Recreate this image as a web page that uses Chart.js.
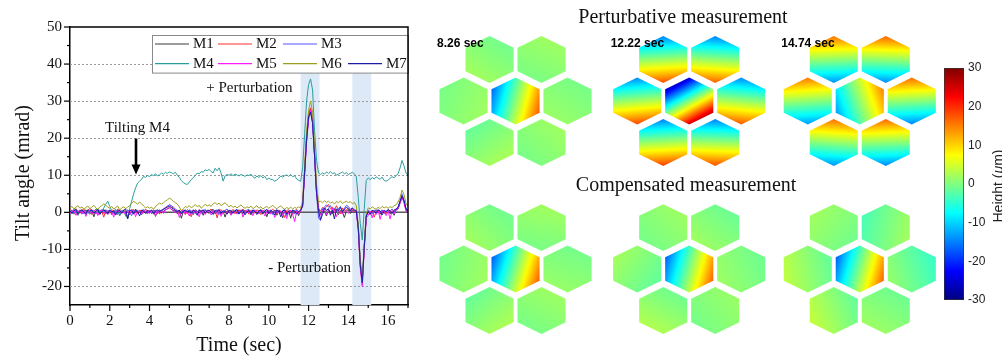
<!DOCTYPE html>
<html>
<head>
<meta charset="utf-8">
<script src="https://cdn.jsdelivr.net/npm/chart.js@4.4.0/dist/chart.umd.min.js"></script>
<style>
  html, body { margin: 0; padding: 0; background: #ffffff; }
  #fig { position: relative; width: 1002px; height: 358px; overflow: hidden; background: #ffffff; }
  .panel { position: absolute; }
</style>
</head>
<body>
<div id="fig">
  <div class="panel" style="left:0;top:0;width:420px;height:358px"><canvas id="tilt"></canvas></div>
  <div class="panel" style="left:420px;top:0;width:582px;height:358px"><canvas id="surface"></canvas></div>
  <div class="panel" style="left:936px;top:56px;width:66px;height:256px"><canvas id="colorbar"></canvas></div>
</div>
<script>
// ---------------------------------------------------------------------------
// Segment tilt angles (mrad), sampled every 0.1 s from 0 to 17 s
// ---------------------------------------------------------------------------
const SAMPLE_STEP = 0.1;

const M1 = [
  0.3,-0.4,0.6,0.1,-0.8,0.5,0.2,-0.3,0.7,0.0,
  -0.5,0.4,-1.2,0.3,0.6,-0.2,0.1,0.8,-0.4,0.2,
  0.5,-0.6,0.3,-0.1,0.7,-0.9,0.2,0.4,-0.3,-1.4,
  0.6,0.2,-0.5,0.9,-0.2,0.3,-0.7,0.5,0.1,-0.4,
  0.4,-0.3,0.6,-1.1,0.2,0.5,-0.2,0.3,0.7,0.9,
  1.2,0.8,0.5,0.3,-0.4,0.6,-1.6,0.2,0.4,-0.3,
  0.5,0.1,-0.6,0.7,0.3,-0.2,0.4,-0.8,0.6,0.2,
  -0.3,0.5,0.8,-0.4,0.2,0.6,-0.5,0.3,-1.3,0.4,
  0.2,-0.6,0.5,0.3,-0.2,0.7,0.1,-0.4,0.6,-0.1,
  0.4,-0.7,0.3,0.5,-0.3,0.2,0.8,-0.5,0.3,-1.2,
  0.5,0.2,-0.4,0.6,-0.8,0.3,0.1,-1.5,0.7,-0.3,
  0.4,-1.6,0.5,-0.2,0.3,-0.9,0.6,2.0,11.0,20.0,
  26.0,28.0,25.0,16.0,6.0,1.2,-0.5,0.8,0.3,-1.0,
  0.6,0.2,-0.4,0.9,0.3,-0.6,0.5,0.1,-1.4,0.4,
  0.7,-0.3,0.5,0.2,0.5,-4.0,-14.0,-18.5,-9.0,-1.0,
  0.3,-0.6,0.4,-0.2,0.7,0.1,-0.5,0.6,-0.3,0.2,
  0.5,-0.4,0.3,-0.8,0.6,0.9,2.6,4.2,2.8,0.6,
  0.3
];
const M2 = [
  0.8,0.2,-0.5,1.0,0.4,-0.3,0.6,0.9,-0.2,0.5,
  1.1,-0.6,0.3,0.7,-0.4,0.5,0.2,-1.3,0.6,0.3,
  -0.2,0.7,0.4,-0.5,0.9,0.2,-0.3,0.6,0.1,0.4,
  -0.7,0.5,0.8,0.2,-0.4,0.6,0.3,-0.2,0.9,0.1,
  0.5,-0.3,0.7,0.2,0.4,-0.5,0.6,0.9,1.3,1.7,
  1.9,1.5,1.1,0.6,0.2,-0.4,0.5,0.3,-0.6,0.7,
  0.2,-1.2,0.6,0.4,-0.3,0.8,0.2,0.5,-0.4,0.6,
  0.3,0.9,-0.2,0.5,-1.5,0.4,0.7,0.1,0.6,-0.3,
  0.5,0.2,0.8,-0.4,0.3,0.6,-0.2,0.9,0.1,0.4,
  -0.5,0.6,0.3,-0.2,0.7,0.4,-0.6,0.5,0.2,0.8,
  -0.3,0.4,0.9,0.1,-0.5,0.6,0.3,-0.2,-1.4,0.5,
  0.7,0.2,-0.6,0.4,0.8,-0.3,0.5,2.2,11.5,20.5,
  26.5,28.2,25.0,15.5,5.5,1.0,0.4,1.3,0.8,1.6,
  2.1,0.9,1.4,0.5,1.8,0.6,-0.4,1.2,0.3,0.7,
  1.1,0.4,0.8,0.3,0.6,-4.5,-14.5,-19.5,-9.5,-1.2,
  0.4,-0.5,0.6,-1.3,0.2,0.5,-0.3,0.7,0.1,-0.4,
  0.6,0.3,-0.2,0.5,0.8,1.1,2.8,4.6,3.0,0.8,
  0.4
];
const M3 = [
  0.2,0.6,-0.3,0.4,0.1,0.7,-0.5,0.3,0.5,-0.2,
  0.4,0.8,0.1,-0.4,0.6,0.2,0.5,-0.3,0.7,0.3,
  0.6,-0.2,0.4,0.8,-0.6,0.3,0.5,0.1,-0.4,0.7,
  0.2,-0.9,0.5,0.3,0.6,-0.2,0.4,0.8,0.1,0.5,
  -0.3,0.6,0.2,0.5,-0.4,0.7,0.3,0.9,1.2,1.6,
  2.1,1.8,1.4,0.9,0.5,0.2,-0.3,0.6,0.4,0.1,
  0.7,0.3,-0.5,0.5,0.2,0.6,-0.3,0.4,0.8,0.1,
  0.5,-0.2,0.6,0.3,0.7,-0.6,0.4,0.2,0.5,0.9,
  0.1,0.6,-0.3,0.5,0.4,-0.5,0.7,0.2,0.3,0.6,
  0.8,-0.2,0.4,0.6,0.1,-0.4,0.5,0.3,0.7,-0.1,
  0.4,0.6,-0.6,0.3,0.8,0.2,-0.3,0.5,0.6,-0.9,
  0.3,0.5,0.1,-0.4,0.6,0.2,0.4,1.8,10.5,19.5,
  25.5,27.2,24.0,15.0,5.0,-1.5,-2.2,0.9,1.5,2.0,
  1.4,1.8,0.6,1.2,0.3,0.9,1.6,0.4,1.1,1.9,
  1.6,0.8,1.2,0.5,0.6,-3.8,-13.5,-18.8,-9.2,-0.8,
  0.5,0.2,-0.4,0.6,0.3,0.8,-0.2,0.5,0.4,0.1,
  0.7,0.4,0.9,0.2,0.6,1.4,3.2,5.0,3.3,1.0,
  0.5
];
const M4 = [
  0.5,-0.3,0.8,0.2,-0.6,0.4,0.7,-0.2,0.3,0.6,
  -0.4,0.5,0.2,0.9,-0.3,0.6,0.4,1.2,2.2,3.0,
  1.6,0.4,-0.5,0.6,0.2,-0.8,0.3,0.5,-1.0,-1.6,
  1.0,3.0,5.0,6.6,7.9,8.4,8.9,9.7,9.4,10.0,
  9.6,10.2,9.9,10.4,9.8,10.1,10.6,10.3,10.8,10.5,
  10.9,10.7,10.4,10.8,10.0,9.4,8.6,8.0,7.7,7.5,
  8.2,8.8,9.4,9.9,10.6,10.4,11.0,10.8,11.5,11.2,
  11.6,11.0,10.6,11.9,11.2,12.0,10.6,8.4,9.8,10.2,
  10.0,10.4,9.9,10.3,10.1,9.8,10.2,10.0,9.7,10.1,
  9.9,10.3,9.6,9.2,9.8,9.4,9.9,9.3,9.7,8.8,
  9.2,8.9,8.8,8.4,8.7,9.2,9.8,9.5,9.9,10.1,
  9.7,10.2,9.6,9.9,9.0,8.6,8.4,12.0,21.0,30.0,
  34.5,36.0,33.0,22.0,14.0,10.6,10.2,10.6,10.3,10.9,
  10.5,11.0,10.4,10.7,10.0,10.3,10.6,10.9,10.4,10.7,
  10.2,10.5,10.8,10.4,9.6,4.0,-3.0,-7.5,1.0,8.6,
  9.3,8.8,9.4,9.0,9.6,9.2,8.9,9.5,8.6,8.4,
  8.7,9.2,9.6,9.3,9.9,10.4,12.0,14.0,12.5,10.6,
  10.0
];
const M5 = [
  -0.4,0.3,0.7,-0.8,0.2,0.5,-0.3,0.6,-1.1,0.4,
  0.2,-0.5,0.6,0.1,-0.9,0.4,0.7,-0.2,0.3,-0.6,
  0.5,0.2,-1.3,0.4,0.1,0.6,-0.4,0.3,-0.7,0.5,
  -0.5,0.3,0.6,-1.2,0.4,0.2,-0.6,0.5,0.3,-0.4,
  0.6,-0.2,0.3,-0.9,0.5,0.1,0.4,-0.3,0.7,0.9,
  1.3,0.8,0.4,-0.2,0.5,-1.4,0.3,0.6,-0.5,0.2,
  -1.0,0.4,0.6,-0.3,0.2,-1.2,0.5,0.3,-0.6,0.4,
  0.2,-0.7,0.5,0.3,-0.4,0.6,-1.1,0.2,0.4,-0.3,
  0.5,-0.8,0.3,0.1,-0.5,0.4,0.6,-1.3,0.2,0.5,
  -0.2,0.4,-0.9,0.6,0.2,-0.4,0.3,0.5,-1.0,0.2,
  0.6,-0.5,0.3,-1.4,0.5,-0.2,0.4,-0.8,0.3,-1.7,
  0.2,0.5,-0.6,-2.5,0.3,-0.4,0.5,1.6,10.0,19.0,
  25.0,27.5,24.5,15.5,5.2,0.6,-0.8,0.4,1.0,-0.6,
  0.8,-0.4,1.1,0.3,-1.2,0.6,0.2,-0.5,0.9,0.3,
  -0.3,0.7,0.2,0.5,0.3,-4.8,-15.0,-20.0,-10.0,-1.5,
  -0.8,0.3,-1.5,0.4,-0.6,0.5,-1.9,0.2,0.4,-0.9,
  0.3,-1.8,0.5,-0.4,0.6,1.0,2.4,4.0,2.6,0.2,
  0.3
];
const M6 = [
  1.2,1.6,0.9,1.4,1.8,1.1,1.5,0.8,1.3,1.7,
  1.0,1.4,1.9,1.2,0.7,1.5,1.8,2.3,1.9,1.4,
  1.1,1.6,0.9,1.3,1.7,0.6,1.2,1.5,1.0,1.4,
  1.8,2.4,3.0,2.6,2.2,2.8,2.3,1.7,1.2,1.5,
  1.1,1.4,0.8,1.6,2.0,2.5,2.2,2.6,3.0,3.4,
  3.8,3.5,3.0,2.6,2.2,1.5,0.4,1.0,1.6,1.3,
  1.8,1.2,1.6,2.1,1.5,1.9,1.1,1.6,2.2,1.7,
  2.0,1.6,2.3,2.6,2.1,2.5,1.8,2.2,2.6,2.0,
  1.5,1.9,1.3,1.7,1.2,1.6,2.0,1.4,1.1,1.5,
  1.2,1.7,1.0,1.4,1.8,1.1,1.5,0.9,1.3,1.6,
  1.1,1.5,1.9,1.3,1.0,1.4,1.7,1.2,0.8,1.3,
  1.0,1.4,0.9,1.3,1.1,1.5,1.2,2.8,12.5,22.0,
  27.5,30.0,27.0,18.0,7.5,2.8,3.0,2.6,3.1,2.7,
  3.0,2.5,2.8,2.2,2.9,2.6,3.1,2.4,2.7,3.0,
  2.6,2.9,2.3,2.7,1.8,-3.2,-13.0,-18.0,-8.5,-0.4,
  1.2,0.9,1.5,1.1,0.8,1.4,1.0,1.6,1.2,1.5,
  1.1,1.5,1.3,1.8,2.0,2.8,4.0,6.0,4.8,2.4,
  1.5
];
const M7 = [
  0.4,-0.2,0.5,0.8,-0.4,0.3,0.6,0.1,-0.5,0.7,
  0.3,0.6,-0.3,0.4,0.9,-0.6,0.2,0.5,0.3,-0.4,
  0.6,0.1,0.4,-0.7,0.3,0.5,-0.2,0.6,0.9,-1.8,
  0.4,0.7,-0.4,0.5,0.2,-1.0,0.6,0.3,-0.3,0.5,
  0.2,0.6,-0.5,0.4,0.7,0.2,0.5,0.8,1.1,1.4,
  1.6,1.3,0.9,0.5,0.2,0.6,-0.4,0.3,0.7,0.1,
  0.4,-0.3,0.6,0.2,-0.8,0.5,0.3,0.7,-0.2,0.4,
  0.6,0.1,-0.6,0.5,0.3,0.8,-0.3,0.4,0.2,-0.5,
  0.6,0.3,-0.2,0.5,0.8,-0.4,0.3,0.6,-0.7,0.2,
  0.5,-0.3,0.7,0.2,-0.6,0.4,0.6,-0.2,0.3,0.8,
  -0.4,0.5,0.2,-0.7,0.6,0.3,-1.2,0.4,0.7,-0.5,
  0.3,-0.2,0.6,0.4,-0.5,0.3,0.5,1.7,10.8,19.8,
  25.8,27.0,24.2,15.2,5.4,0.3,-2.0,-0.6,1.2,0.5,
  1.0,-0.8,0.6,-1.8,0.9,0.4,1.3,0.2,0.8,1.4,
  1.0,0.3,1.2,0.6,0.4,-4.2,-14.2,-19.0,-9.4,-1.0,
  0.2,-0.5,0.5,0.3,-0.2,0.6,0.4,-0.7,0.5,0.2,
  0.8,0.3,-0.3,0.6,0.9,1.3,2.9,4.4,3.1,0.9,
  0.5
];

const seriesNames  = ['M1', 'M2', 'M3', 'M4', 'M5', 'M6', 'M7'];
const seriesValues = [M1, M2, M3, M4, M5, M6, M7];
const seriesColors = ['#3c3c3c', '#ff3030', '#5555ff', '#2a9e9e', '#ff1aff', '#9d9d1e', '#1c1caa'];

// Time windows in which the perturbation was applied (s)
const perturbationWindows = [[11.6, 12.55], [14.2, 15.15]];

// ---------------------------------------------------------------------------
// Surface height snapshots: per segment [piston, tilt across x, tilt down y] (µm)
// segment order: top-left, top-right, mid-left, centre (M4), mid-right, bottom-left, bottom-right
// ---------------------------------------------------------------------------
const snapshotTimes = ['8.26 sec', '12.22 sec', '14.74 sec'];
const perturbative826  = [[0.6,-0.8,1.2],[0.8,0.5,-1.0],[0.7,1.0,0.4],[0.5,15,4],[0.5,-0.6,0.8],[0.5,1.2,1.6],[0.7,0.8,-0.8]];
const perturbative1222 = [[1.5,1.0,16.5],[1.0,-1.0,16.0],[2.0,1.5,16.5],[0,14,25],[1.5,-1.5,16.0],[2.0,1.0,17.0],[1.5,-0.5,16.5]];
const perturbative1474 = [[1.0,-0.5,-15],[1.2,0.5,-15.5],[1.0,-1.0,-14.5],[1,12,-4],[0.8,-0.8,-15.5],[1.1,1.0,-15],[0.9,-0.5,-15.5]];
const compensated826   = [[0.5,-1.0,1.0],[0.8,0.3,-1.2],[0.6,1.2,0.3],[0,15,4.5],[0.4,-0.4,1.0],[0.6,1.4,1.5],[0.7,0.6,-1.0]];
const compensated1222  = [[0.6,0.8,-0.8],[0.3,-1.0,1.2],[0.2,-1.5,-1.0],[0,15,4],[0.3,-1.2,0.5],[1.0,-1.0,1.8],[0.5,0.8,-0.6]];
const compensated1474  = [[0.6,-1.0,-0.8],[-0.5,2.5,0.5],[1.0,-2.5,0.5],[0,15,4],[-1.5,-2.5,0.8],[1.2,-2.5,1.0],[0.3,-0.8,1.2]];

const heightRange = [-30, 30];
const heightTicks = [-30, -20, -10, 0, 10, 20, 30];

// ---------------------------------------------------------------------------
const SERIF = "'Liberation Serif', 'Times New Roman', serif";
const SANS  = "'Liberation Sans', Arial, sans-serif";

const timeSec = M1.map((_, i) => +(i * SAMPLE_STEP).toFixed(1));

// Jet colour map
function jet(t) {
  t = Math.min(1, Math.max(0, t));
  const c = v => Math.round(255 * Math.min(1, Math.max(0, v)));
  return `rgb(${c(1.5 - Math.abs(4 * t - 3))},${c(1.5 - Math.abs(4 * t - 2))},${c(1.5 - Math.abs(4 * t - 1))})`;
}
const heightColor = h => jet((h - heightRange[0]) / (heightRange[1] - heightRange[0]));

// ---------------------------------------------------------------------------
// Tilt-angle time series
// ---------------------------------------------------------------------------
const tiltDecor = {
  id: 'tiltDecor',
  beforeDatasetsDraw(chart) {
    const { ctx, chartArea: a, scales: { x, y } } = chart;
    ctx.save();
    // perturbation windows
    ctx.fillStyle = 'rgb(221,233,246)';
    const bandTop = y.getPixelForValue(37.6);
    perturbationWindows.forEach(([t0, t1]) => {
      const x0 = x.getPixelForValue(t0), x1 = x.getPixelForValue(t1);
      ctx.fillRect(x0, bandTop, x1 - x0, a.bottom - bandTop);
    });
    // dotted grid
    ctx.strokeStyle = '#9a9a9a';
    ctx.lineWidth = 1;
    ctx.setLineDash([2, 2]);
    [-20, -10, 10, 20, 30, 40].forEach(v => {
      const py = Math.round(y.getPixelForValue(v)) + 0.5;
      ctx.beginPath(); ctx.moveTo(a.left, py); ctx.lineTo(a.right, py); ctx.stroke();
    });
    ctx.setLineDash([]);
    // zero line
    ctx.strokeStyle = '#5a5a5a';
    ctx.lineWidth = 1.5;
    const p0 = y.getPixelForValue(0);
    ctx.beginPath(); ctx.moveTo(a.left, p0); ctx.lineTo(a.right, p0); ctx.stroke();
    ctx.restore();
  },
  afterDatasetsDraw(chart) {
    const { ctx, chartArea: a, scales: { x, y } } = chart;
    ctx.save();
    // annotations
    ctx.fillStyle = '#111';
    ctx.font = `15px ${SERIF}`;
    ctx.textBaseline = 'middle';
    ctx.textAlign = 'left';
    ctx.fillText('+ Perturbation', x.getPixelForValue(6.85), y.getPixelForValue(33.6));
    ctx.fillText('Tilting M4', x.getPixelForValue(1.76), y.getPixelForValue(22.8));
    ctx.fillText('- Perturbation', x.getPixelForValue(9.97), y.getPixelForValue(-14.9));
    // arrow to the start of the M4 tilt
    const ax = x.getPixelForValue(3.32), ay0 = y.getPixelForValue(19.9), ay1 = y.getPixelForValue(10.2);
    ctx.strokeStyle = '#000'; ctx.fillStyle = '#000';
    ctx.lineWidth = 2.6;
    ctx.beginPath(); ctx.moveTo(ax, ay0); ctx.lineTo(ax, ay1 - 8); ctx.stroke();
    ctx.beginPath(); ctx.moveTo(ax - 4.5, ay1 - 10); ctx.lineTo(ax + 4.5, ay1 - 10); ctx.lineTo(ax, ay1); ctx.closePath(); ctx.fill();

    // legend box
    const lw = 256, lh = 37.6;
    const lx = a.right - lw, ly = a.top + 8.4;
    ctx.fillStyle = '#fff';
    ctx.fillRect(lx, ly, lw, lh);
    ctx.strokeStyle = '#8a8a8a'; ctx.lineWidth = 1;
    ctx.strokeRect(Math.round(lx) + 0.5, Math.round(ly) + 0.5, lw, lh);
    const cols = [3, 66, 131, 196];
    const rows = [8.6, 28.3];
    const layout = [[0, 0, 0], [0, 1, 1], [0, 2, 2], [1, 0, 3], [1, 1, 4], [1, 2, 5], [1, 3, 6]];
    ctx.font = `15px ${SERIF}`;
    layout.forEach(([r, c, i]) => {
      const ds = chart.data.datasets[i];
      const sx = lx + cols[c], sy = ly + rows[r];
      ctx.strokeStyle = ds.borderColor; ctx.lineWidth = 1.2;
      ctx.beginPath(); ctx.moveTo(sx, sy); ctx.lineTo(sx + 34, sy); ctx.stroke();
      ctx.fillStyle = '#111';
      ctx.fillText(ds.label, sx + 38, sy + 0.5);
    });

    // frame top/right
    ctx.strokeStyle = '#000'; ctx.lineWidth = 1.5;
    ctx.beginPath();
    ctx.moveTo(a.left, a.top); ctx.lineTo(a.right, a.top); ctx.lineTo(a.right, a.bottom);
    ctx.stroke();
    // tick marks (major and minor, outward)
    ctx.lineWidth = 1.2;
    for (let v = -20; v <= 50; v += 5) {
      const py = y.getPixelForValue(v), len = v % 10 === 0 ? 6 : 3;
      ctx.beginPath(); ctx.moveTo(a.left - len, py); ctx.lineTo(a.left, py); ctx.stroke();
    }
    for (let t = 0; t <= 17; t += 1) {
      const px = x.getPixelForValue(t), len = t % 2 === 0 ? 6 : 3;
      ctx.beginPath(); ctx.moveTo(px, a.bottom); ctx.lineTo(px, a.bottom + len); ctx.stroke();
    }
    ctx.restore();
  }
};

// y-axis title, centred a little below the plot middle
const tiltTitle = {
  id: 'tiltTitle',
  afterDraw(chart) {
    const { ctx, chartArea: a } = chart;
    ctx.save();
    ctx.translate(24, (a.top + a.bottom) / 2 + 7);
    ctx.rotate(-Math.PI / 2);
    ctx.fillStyle = '#111';
    ctx.font = `20px ${SERIF}`;
    ctx.textAlign = 'center';
    ctx.textBaseline = 'middle';
    ctx.fillText('Tilt angle (mrad)', 0, 0);
    ctx.restore();
  }
};

new Chart(document.getElementById('tilt'), {
  type: 'line',
  data: {
    datasets: seriesValues.map((vals, i) => ({
      label: seriesNames[i],
      data: vals.map((v, k) => ({ x: timeSec[k], y: v })),
      borderColor: seriesColors[i],
      borderWidth: 1,
      pointRadius: 0,
      tension: 0,
      order: seriesValues.length - i
    }))
  },
  options: {
    responsive: true,
    maintainAspectRatio: false,
    animation: false,
    devicePixelRatio: 1,
    events: [],
    layout: { padding: { left: 0, right: 12, top: 27, bottom: 0 } },
    plugins: { legend: { display: false }, tooltip: { enabled: false } },
    scales: {
      x: {
        type: 'linear', min: 0, max: 17,
        ticks: { stepSize: 2, includeBounds: false, padding: 7, color: '#111', font: { family: SERIF, size: 15 }, maxRotation: 0 },
        grid: { display: false, drawTicks: false },
        border: { display: true, color: '#000', width: 1.5 },
        title: { display: true, text: 'Time (sec)', color: '#111', font: { family: SERIF, size: 20 }, padding: { top: 0, bottom: 0 } },
        afterFit(s) { s.height = 53; }
      },
      y: {
        type: 'linear', min: -25, max: 50,
        ticks: { stepSize: 10, includeBounds: false, padding: 8, color: '#111', font: { family: SERIF, size: 15 } },
        grid: { display: false, drawTicks: false },
        border: { display: true, color: '#000', width: 1.5 },
        afterFit(s) { s.width = 70; }
      }
    }
  },
  plugins: [tiltDecor, tiltTitle]
});

// ---------------------------------------------------------------------------
// Segmented-mirror height maps
// ---------------------------------------------------------------------------
// hexagonal layout of the seven segments, in segment pitches
const segmentColumn = [-0.5, 0.5, -1, 0, 1, -0.5, 0.5];
const segmentRow    = [-1, -1, 0, 0, 0, 1, 1];
const snapshotColumn = [0, 3.34, 6.62];
const measurementRow = [0, 4.05];
const measurementTitles = ['Perturbative measurement', 'Compensated measurement'];
const snapshotSets = [
  [perturbative826, perturbative1222, perturbative1474],
  [compensated826, compensated1222, compensated1474]
];
const HEX_W = 0.925, HEX_H = 1.13;

function drawSegment(ctx, cx, cy, w, h, [piston, tiltX, tiltY]) {
  const verts = [[0, -h / 2], [w / 2, -h / 4], [w / 2, h / 4], [0, h / 2], [-w / 2, h / 4], [-w / 2, -h / 4]];
  ctx.beginPath();
  verts.forEach(([dx, dy], k) => k ? ctx.lineTo(cx + dx, cy + dy) : ctx.moveTo(cx + dx, cy + dy));
  ctx.closePath();
  const gx = tiltX / (w / 2), gy = tiltY / (h / 2);
  const mag = Math.hypot(gx, gy);
  if (mag < 1e-9) {
    ctx.fillStyle = heightColor(piston);
  } else {
    const ux = gx / mag, uy = gy / mag;
    const reach = Math.max(...verts.map(([dx, dy]) => Math.abs(dx * ux + dy * uy)));
    const grad = ctx.createLinearGradient(cx - ux * reach, cy - uy * reach, cx + ux * reach, cy + uy * reach);
    const lo = piston - mag * reach, hi = piston + mag * reach;
    for (let s = 0; s <= 30; s++) grad.addColorStop(s / 30, heightColor(lo + (hi - lo) * s / 30));
    ctx.fillStyle = grad;
  }
  ctx.fill();
}

const segmentPlugin = {
  id: 'segmentPlugin',
  afterDatasetsDraw(chart) {
    const { ctx, scales: { x, y } } = chart;
    const ux = x.getPixelForValue(1) - x.getPixelForValue(0);
    const uy = y.getPixelForValue(1) - y.getPixelForValue(0);
    const w = HEX_W * ux, h = HEX_H * uy;
    ctx.save();
    chart.data.datasets.forEach((ds, di) => {
      chart.getDatasetMeta(di).data.forEach((pt, i) => drawSegment(ctx, pt.x, pt.y, w, h, ds.heights[i]));
    });
    // snapshot time labels
    ctx.fillStyle = '#000';
    ctx.font = `bold 12px ${SANS}`;
    ctx.textBaseline = 'middle';
    ctx.textAlign = 'left';
    snapshotTimes.forEach((label, k) => {
      ctx.fillText(label, x.getPixelForValue(snapshotColumn[k] - 1.51), y.getPixelForValue(measurementRow[0] - 1.38));
    });
    // section titles
    ctx.font = `20px ${SERIF}`;
    ctx.fillStyle = '#111';
    ctx.textAlign = 'center';
    measurementTitles.forEach((t, r) => {
      ctx.fillText(t, x.getPixelForValue(3.22 + r * 0.06), y.getPixelForValue(measurementRow[r] - 2.0));
    });
    ctx.restore();
  }
};

const segmentDatasets = [];
measurementRow.forEach((row, r) => {
  snapshotColumn.forEach((col, k) => {
    segmentDatasets.push({
      label: `${measurementTitles[r]} ${snapshotTimes[k]}`,
      data: segmentColumn.map((c, i) => ({ x: col + c, y: row + segmentRow[i] })),
      heights: snapshotSets[r][k],
      pointRadius: 0
    });
  });
});

new Chart(document.getElementById('surface'), {
  type: 'scatter',
  data: { datasets: segmentDatasets },
  options: {
    responsive: true,
    maintainAspectRatio: false,
    animation: false,
    devicePixelRatio: 1,
    events: [],
    layout: { padding: 0 },
    plugins: { legend: { display: false }, tooltip: { enabled: false } },
    scales: {
      x: { type: 'linear', display: false, min: -1.837, max: 9.355 },
      y: { type: 'linear', display: false, reverse: true, min: -2.434, max: 6.193 }
    }
  },
  plugins: [segmentPlugin]
});

// ---------------------------------------------------------------------------
// Colour bar
// ---------------------------------------------------------------------------
function colorbarFill(chart) {
  const ys = chart.scales.y;
  if (!ys || !chart.chartArea) return '#888';
  const g = chart.ctx.createLinearGradient(0, ys.getPixelForValue(heightRange[0]), 0, ys.getPixelForValue(heightRange[1]));
  for (let s = 0; s <= 40; s++) g.addColorStop(s / 40, jet(s / 40));
  return g;
}

const colorbarTitle = {
  id: 'colorbarTitle',
  afterDraw(chart) {
    const { ctx, chartArea: a } = chart;
    ctx.save();
    ctx.translate(chart.width - 3, (a.top + a.bottom) / 2 + 2);
    ctx.rotate(-Math.PI / 2);
    ctx.fillStyle = '#222';
    ctx.textBaseline = 'middle';
    const parts = [['Height (', `14px ${SANS}`], ['\u03bc', `italic 14px ${SANS}`], ['m)', `14px ${SANS}`]];
    const widths = parts.map(([t, f]) => { ctx.font = f; return ctx.measureText(t).width; });
    let cx = -widths.reduce((s, v) => s + v, 0) / 2;
    parts.forEach(([t, f], i) => { ctx.font = f; ctx.fillText(t, cx, 0); cx += widths[i]; });
    ctx.restore();
  }
};

new Chart(document.getElementById('colorbar'), {
  type: 'bar',
  data: {
    labels: [''],
    datasets: [{
      data: [heightRange],
      backgroundColor: c => colorbarFill(c.chart),
      borderColor: '#333',
      borderWidth: 1,
      borderSkipped: false,
      barPercentage: 1,
      categoryPercentage: 1
    }]
  },
  options: {
    responsive: true,
    maintainAspectRatio: false,
    animation: false,
    devicePixelRatio: 1,
    events: [],
    layout: { padding: { left: 8, right: 0, top: 12, bottom: 12 } },
    plugins: { legend: { display: false }, tooltip: { enabled: false } },
    scales: {
      x: { display: false },
      y: {
        position: 'right', min: heightRange[0], max: heightRange[1],
        afterBuildTicks(s) { s.ticks = heightTicks.map(v => ({ value: v })); },
        ticks: { padding: 4, color: '#222', font: { family: SANS, size: 12 } },
        grid: { display: false, drawTicks: false },
        border: { display: false },
        afterFit(s) { s.width = 38; }
      }
    }
  },
  plugins: [colorbarTitle]
});
</script>
</body>
</html>
